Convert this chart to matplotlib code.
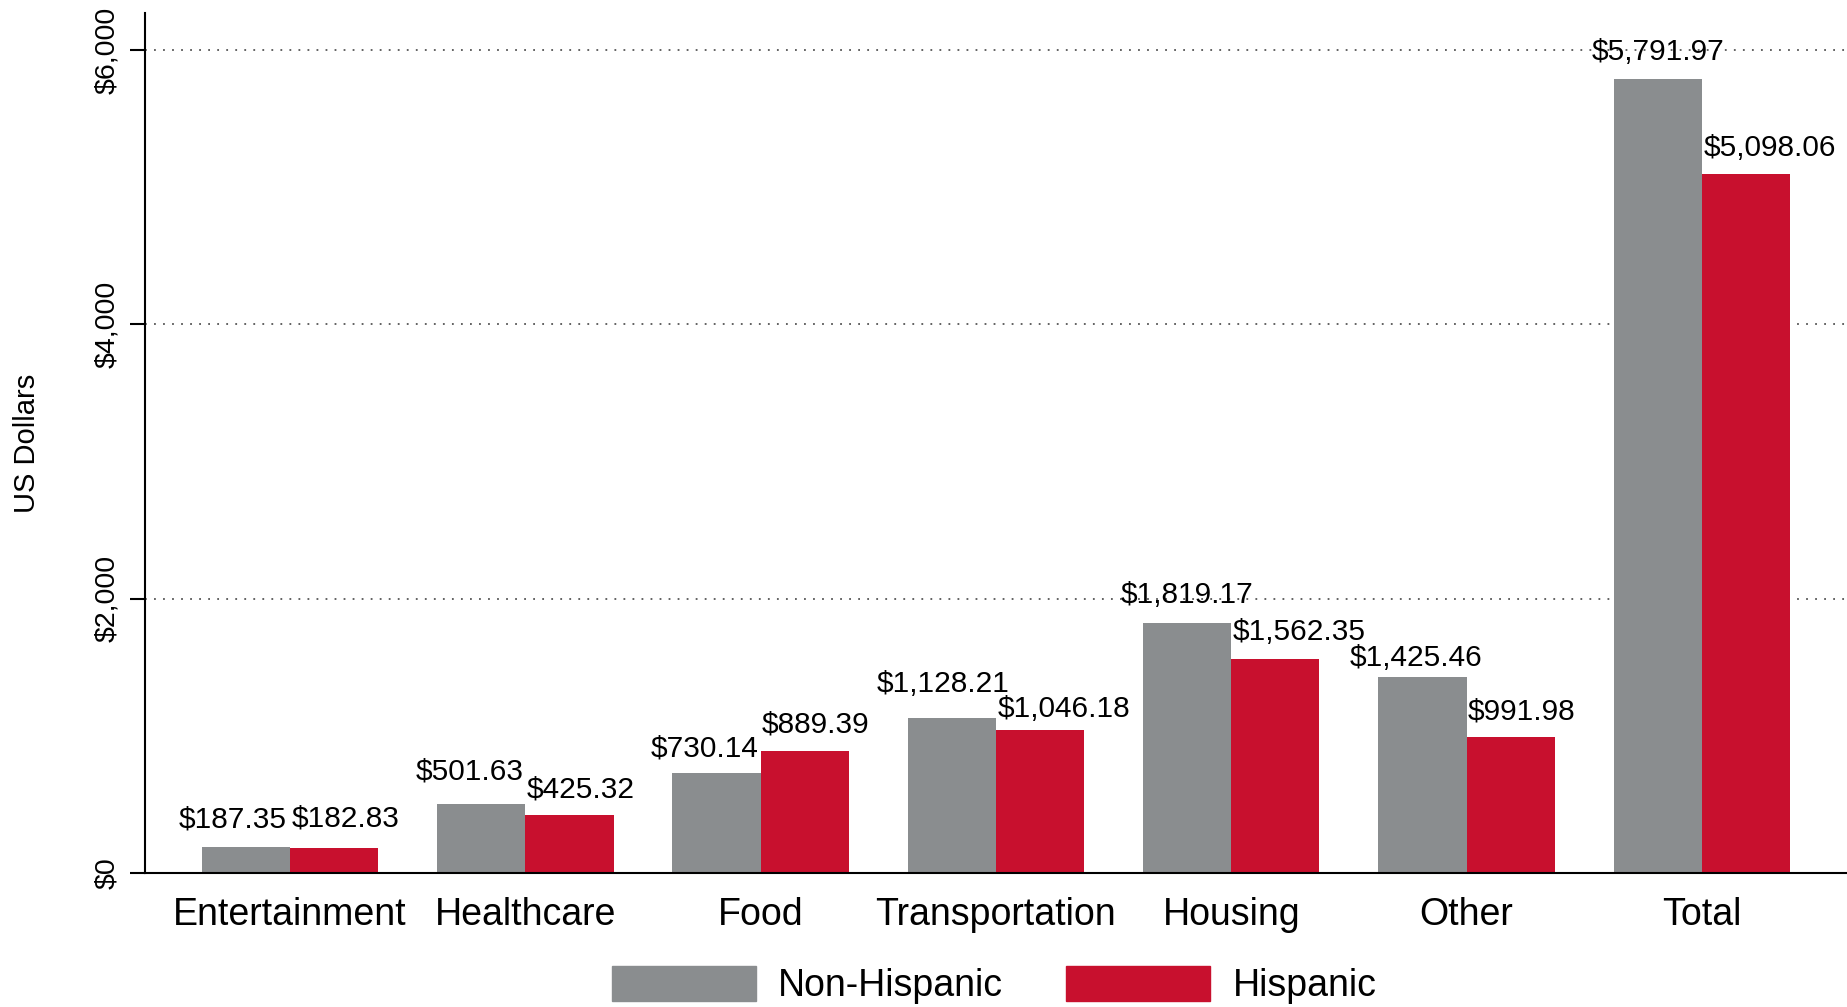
import matplotlib
matplotlib.use('Agg')
from matplotlib import pyplot as plt
from matplotlib.patches import Patch
import numpy as np

# 支出カテゴリと系列の値
categories = ['Entertainment', 'Healthcare', 'Food', 'Transportation', 'Housing', 'Other', 'Total']
non_hispanic = [187.35, 501.63, 730.14, 1128.21, 1819.17, 1425.46, 5791.97]
hispanic = [182.83, 425.32, 889.39, 1046.18, 1562.35, 991.98, 5098.06]
series_names = ['Non-Hispanic', 'Hispanic']
y_ticks = [0, 2000, 4000, 6000]
y_tick_labels = ['$0', '$2,000', '$4,000', '$6,000']

GRAY = '#8A8D8F'
RED = '#C8102E'

plt.rcParams['font.family'] = ['Liberation Sans', 'DejaVu Sans']
plt.rcParams['text.parse_math'] = False

# ラベル位置の微調整（ピクセル）
gray_dx = [-13, -11, -12, -9, 0, -6, 0]
gray_gap = [20, 25, 16, 26, 20, 11, 19]
red_gap = [21, 17, 19, 13, 19, 17, 18]
PX = 0.72  # px -> pt (dpi=100)


def money(v):
    return '${:,.2f}'.format(v)


def draw_chart():
    fig = plt.figure(figsize=(18.47, 10.07), dpi=100)
    ax = fig.add_axes([145 / 1847, 134 / 1007, 1702 / 1847, 860 / 1007])

    x = np.arange(len(categories))
    w = 0.375
    ax.bar(x - w / 2, non_hispanic, w, color=GRAY, zorder=3)
    ax.bar(x + w / 2, hispanic, w, color=RED, zorder=3)

    # 値ラベル（灰色は棒の中央付近、赤は棒の左端揃え）
    for i, v in enumerate(non_hispanic):
        ax.annotate(money(v), xy=(x[i] - w / 2, v),
                    xytext=(gray_dx[i] * PX, gray_gap[i] * PX),
                    textcoords='offset points', ha='center', va='baseline',
                    fontsize=21.5, zorder=4)
    for i, v in enumerate(hispanic):
        ax.annotate(money(v), xy=(x[i], v), xytext=(1, red_gap[i] * PX),
                    textcoords='offset points', ha='left', va='baseline',
                    fontsize=21.5, zorder=4)

    ax.set_xlim(-0.616, 6.617)
    ax.set_ylim(0, 6270)
    ax.set_xticks(x)
    ax.set_xticklabels(categories, fontsize=27)
    ax.tick_params(axis='x', length=0, pad=17)
    ax.set_yticks(y_ticks)
    ax.set_yticklabels(y_tick_labels, fontsize=20.5, rotation=90, va='center')
    ax.tick_params(axis='y', length=11, width=1.5, pad=7)

    ax.yaxis.grid(True, linestyle=(0, (1, 4)), linewidth=1.3, color='#555555', zorder=1)
    ax.set_axisbelow(True)
    for s in ['top', 'right']:
        ax.spines[s].set_visible(False)
    for s in ['left', 'bottom']:
        ax.spines[s].set_linewidth(1.5)
        ax.spines[s].set_zorder(5)

    fig.text(27 / 1847, 1 - 443 / 1007, 'US Dollars', rotation=90,
             ha='center', va='center', fontsize=21)

    handles = [Patch(color=GRAY, label=series_names[0]),
               Patch(color=RED, label=series_names[1])]
    fig.legend(handles=handles, loc='center', bbox_to_anchor=(994 / 1847, 22 / 1007),
               ncol=2, frameon=False, fontsize=27, handlelength=3.84, handleheight=1.07,
               handletextpad=0.6, columnspacing=1.68, borderpad=0, borderaxespad=0)

    fig.savefig('out.png', dpi=100)


if __name__ == '__main__':
    draw_chart()
